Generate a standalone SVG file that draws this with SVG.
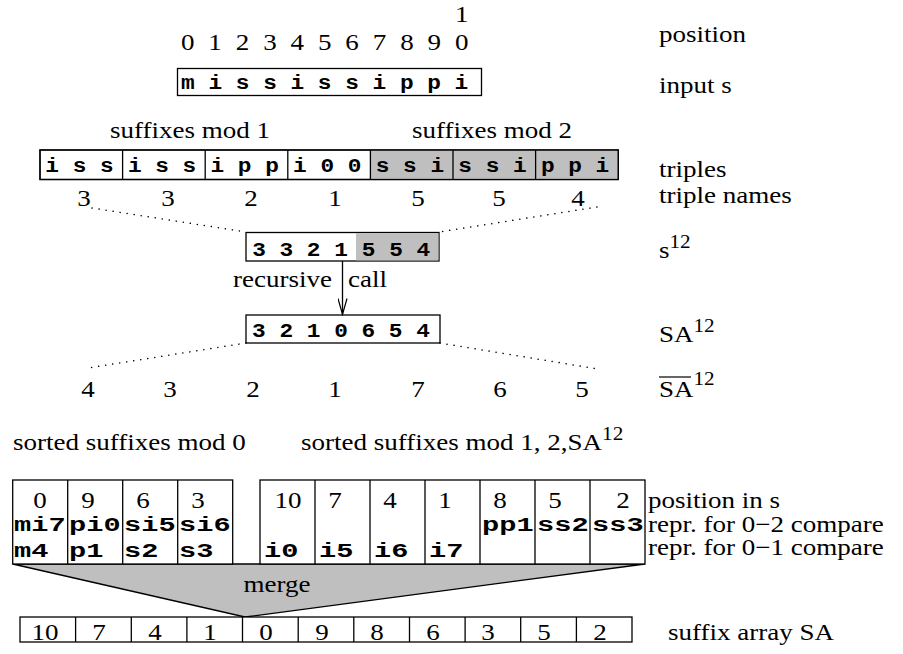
<svg xmlns="http://www.w3.org/2000/svg" width="903" height="654" viewBox="0 0 903 654">
<defs>
<style>
text { font-family: "Liberation Serif", "Times New Roman", serif; font-size: 23px; fill: #000; transform-box: fill-box; transform: scaleX(1.175); transform-origin: left center; }
.m { text-anchor: middle; transform-origin: center; }
.e { text-anchor: end; transform-origin: right center; }
.mono { font-family: "Liberation Mono", "Courier New", monospace; font-weight: bold; font-size: 19.4px; }
.mono2 { font-family: "Liberation Mono", "Courier New", monospace; font-weight: bold; font-size: 20.5px; transform: scaleX(1.4); }
.box { fill: #fff; stroke: #000; stroke-width: 1.3; }
.gray { fill: #bfbfbf; stroke: none; }
.ln { stroke: #000; stroke-width: 1.3; fill: none; }
.dot { stroke: #000; stroke-width: 1.5; stroke-dasharray: 0.1 7; stroke-linecap: round; fill: none; }
.sup { font-size: 18px; }
</style>
<marker id="vee" viewBox="0 0 18 10" refX="17" refY="5" markerWidth="18" markerHeight="10" markerUnits="userSpaceOnUse" orient="auto">
<path d="M1,0.5 L17,5 L1,9.5" fill="none" stroke="#000" stroke-width="1.2"/>
</marker>
</defs>
<rect width="903" height="654" fill="#fff"/>

<g id="positions">
<text class="m" x="461.7" y="22">1</text>
<text class="m" x="187.7" y="50">0</text>
<text class="m" x="215.1" y="50">1</text>
<text class="m" x="242.5" y="50">2</text>
<text class="m" x="269.9" y="50">3</text>
<text class="m" x="297.3" y="50">4</text>
<text class="m" x="324.7" y="50">5</text>
<text class="m" x="352.1" y="50">6</text>
<text class="m" x="379.5" y="50">7</text>
<text class="m" x="406.9" y="50">8</text>
<text class="m" x="434.3" y="50">9</text>
<text class="m" x="461.7" y="50">0</text>
</g>

<g id="input">
<rect class="box" x="177.5" y="68.5" width="304" height="27"/>
<text class="m mono" x="324.7" y="89">m i s s i s s i p p i</text>
</g>

<g id="suffix-headers">
<text class="m" x="190" y="138">suffixes mod 1</text>
<text class="m" x="492" y="138">suffixes mod 2</text>
</g>

<g id="triples">
<rect class="box" x="40" y="150" width="578.2" height="29.5"/>
<rect class="gray" x="370.4" y="150.6" width="247.2" height="28.3"/>
<rect class="ln" x="40" y="150" width="578.2" height="29.5"/>
<line class="ln" x1="122.6" y1="150" x2="122.6" y2="179.5"/>
<line class="ln" x1="205.2" y1="150" x2="205.2" y2="179.5"/>
<line class="ln" x1="287.8" y1="150" x2="287.8" y2="179.5"/>
<line class="ln" x1="370.4" y1="150" x2="370.4" y2="179.5"/>
<line class="ln" x1="453" y1="150" x2="453" y2="179.5"/>
<line class="ln" x1="535.6" y1="150" x2="535.6" y2="179.5"/>
<text class="m mono" x="79.5" y="172">i s s</text>
<text class="m mono" x="162.1" y="172">i s s</text>
<text class="m mono" x="244.7" y="172">i p p</text>
<text class="m mono" x="327.3" y="172">i 0 0</text>
<text class="m mono" x="409.9" y="172">s s i</text>
<text class="m mono" x="492.5" y="172">s s i</text>
<text class="m mono" x="575.1" y="172">p p i</text>
</g>

<g id="triple-names">
<text class="m" x="84" y="206">3</text>
<text class="m" x="168" y="206">3</text>
<text class="m" x="251" y="206">2</text>
<text class="m" x="335" y="206">1</text>
<text class="m" x="418" y="206">5</text>
<text class="m" x="499" y="206">5</text>
<text class="m" x="578" y="206">4</text>
</g>

<g id="s12">
<rect class="box" x="246" y="232.5" width="193" height="28.5"/>
<rect class="gray" x="356" y="233.1" width="82.4" height="27.3"/>
<text class="m mono" x="300" y="256">3 3 2 1</text>
<text class="m mono" x="396" y="256">5 5 4</text>
</g>

<g id="sa12">
<rect class="box" x="246" y="315" width="194" height="28"/>
<text class="m mono" x="341" y="337">3 2 1 0 6 5 4</text>
</g>

<g id="sa12-bar">
<text class="m" x="88" y="397">4</text>
<text class="m" x="170" y="397">3</text>
<text class="m" x="253" y="397">2</text>
<text class="m" x="335" y="397">1</text>
<text class="m" x="418" y="397">7</text>
<text class="m" x="500" y="397">6</text>
<text class="m" x="582" y="397">5</text>
</g>

<g id="connectors">
<line class="dot" x1="92" y1="208" x2="246" y2="232"/>
<line class="dot" x1="597" y1="207" x2="439" y2="232"/>
<line class="ln" x1="342.5" y1="261" x2="342.5" y2="314.5" marker-end="url(#vee)"/>
<line class="dot" x1="246" y1="343" x2="88" y2="368"/>
<line class="dot" x1="440" y1="343" x2="598" y2="369"/>
<text class="e" x="332" y="287">recursive</text>
<text x="348" y="287">call</text>
</g>

<g id="labels">
<text x="659" y="42">position</text>
<text x="659" y="93">input s</text>
<text x="659" y="177">triples</text>
<text x="659" y="203">triple names</text>
<text x="659" y="258">s<tspan class="sup" dy="-10">12</tspan></text>
<text x="659" y="342">SA<tspan class="sup" dy="-10">12</tspan></text>
<text x="659" y="397">SA<tspan class="sup" dy="-12">12</tspan></text>
<line x1="659" y1="377" x2="691" y2="377" stroke="#000" stroke-width="1.2"/>
</g>

<g id="sorted-headers">
<text x="13" y="450">sorted suffixes mod 0</text>
<text x="301" y="450">sorted suffixes mod 1, 2,SA<tspan class="sup" dy="-10">12</tspan></text>
</g>

<g id="merge">
<polygon points="12.7,564 645,564 245,617" fill="#bfbfbf" stroke="#000" stroke-width="1.3"/>
<text class="m" x="277" y="592">merge</text>
</g>

<g id="mod0-table">
<rect class="box" x="12.7" y="480" width="220" height="84"/>
<line class="ln" x1="67.7" y1="480" x2="67.7" y2="564"/>
<line class="ln" x1="122.7" y1="480" x2="122.7" y2="564"/>
<line class="ln" x1="177.7" y1="480" x2="177.7" y2="564"/>
<text class="m" x="40" y="508">0</text>
<text class="m" x="88" y="508">9</text>
<text class="m" x="143" y="508">6</text>
<text class="m" x="198" y="508">3</text>
<text class="mono2" x="14" y="531">mi7</text>
<text class="mono2" x="69" y="531">pi0</text>
<text class="mono2" x="124" y="531">si5</text>
<text class="mono2" x="179" y="531">si6</text>
<text class="mono2" x="14" y="557">m4</text>
<text class="mono2" x="69" y="557">p1</text>
<text class="mono2" x="124" y="557">s2</text>
<text class="mono2" x="179" y="557">s3</text>
</g>

<g id="mod12-table">
<rect class="box" x="260" y="480" width="385" height="84"/>
<line class="ln" x1="315" y1="480" x2="315" y2="564"/>
<line class="ln" x1="370" y1="480" x2="370" y2="564"/>
<line class="ln" x1="425" y1="480" x2="425" y2="564"/>
<line class="ln" x1="480" y1="480" x2="480" y2="564"/>
<line class="ln" x1="535" y1="480" x2="535" y2="564"/>
<line class="ln" x1="590" y1="480" x2="590" y2="564"/>
<text class="m" x="288" y="508">10</text>
<text class="m" x="335" y="508">7</text>
<text class="m" x="390" y="508">4</text>
<text class="m" x="445" y="508">1</text>
<text class="m" x="500" y="508">8</text>
<text class="m" x="555" y="508">5</text>
<text class="m" x="623" y="508">2</text>
<text class="mono2" x="482" y="531">pp1</text>
<text class="mono2" x="537" y="531">ss2</text>
<text class="mono2" x="592" y="531">ss3</text>
<text class="mono2" x="264" y="557">i0</text>
<text class="mono2" x="319" y="557">i5</text>
<text class="mono2" x="374" y="557">i6</text>
<text class="mono2" x="429" y="557">i7</text>
</g>

<g id="table-labels">
<text x="648" y="508">position in s</text>
<text x="648" y="532">repr. for 0−2 compare</text>
<text x="648" y="555">repr. for 0−1 compare</text>
</g>

<g id="suffix-array">
<rect class="box" x="20" y="617" width="612" height="25"/>
<line class="ln" x1="75.6" y1="617" x2="75.6" y2="642"/>
<line class="ln" x1="131.3" y1="617" x2="131.3" y2="642"/>
<line class="ln" x1="186.9" y1="617" x2="186.9" y2="642"/>
<line class="ln" x1="242.5" y1="617" x2="242.5" y2="642"/>
<line class="ln" x1="298.2" y1="617" x2="298.2" y2="642"/>
<line class="ln" x1="353.8" y1="617" x2="353.8" y2="642"/>
<line class="ln" x1="409.5" y1="617" x2="409.5" y2="642"/>
<line class="ln" x1="465.1" y1="617" x2="465.1" y2="642"/>
<line class="ln" x1="520.7" y1="617" x2="520.7" y2="642"/>
<line class="ln" x1="576.4" y1="617" x2="576.4" y2="642"/>
<text class="m" x="45" y="640">10</text>
<text class="m" x="99" y="640">7</text>
<text class="m" x="155" y="640">4</text>
<text class="m" x="210" y="640">1</text>
<text class="m" x="266" y="640">0</text>
<text class="m" x="322" y="640">9</text>
<text class="m" x="377" y="640">8</text>
<text class="m" x="433" y="640">6</text>
<text class="m" x="488" y="640">3</text>
<text class="m" x="544" y="640">5</text>
<text class="m" x="600" y="640">2</text>
<text x="668" y="640">suffix array SA</text>
</g>
</svg>
